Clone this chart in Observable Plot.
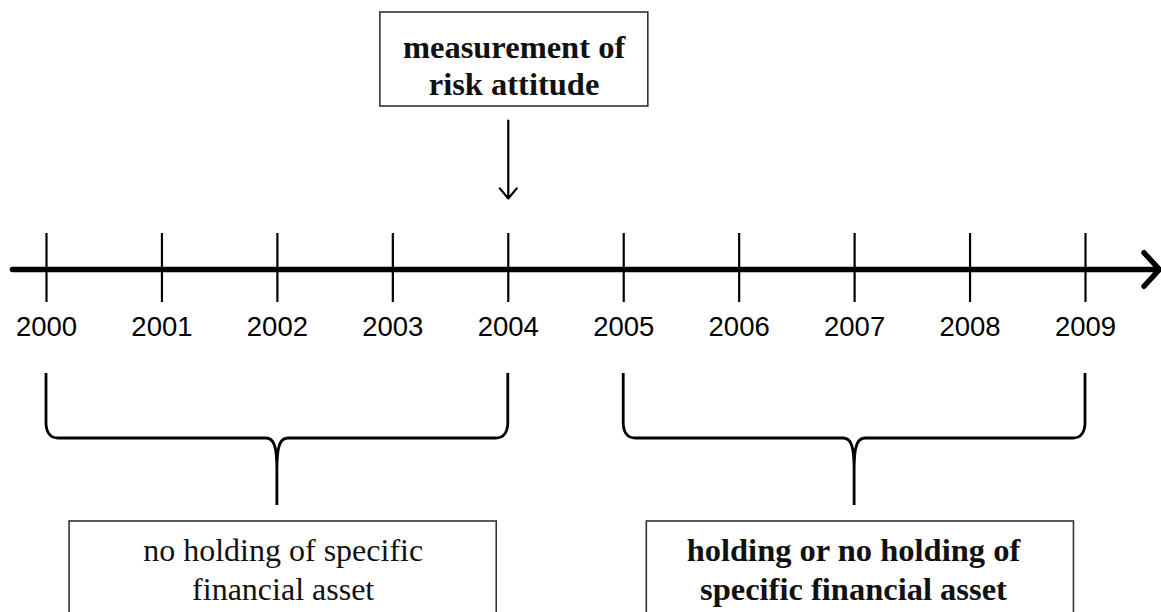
<!DOCTYPE html>
<html>
<head>
<meta charset="utf-8">
<script src="https://cdn.jsdelivr.net/npm/d3@7"></script>
<script src="https://cdn.jsdelivr.net/npm/@observablehq/plot@0.6"></script>
<style>
  html, body { margin: 0; padding: 0; background: #fff; }
  #chart svg { display: block; }
</style>
</head>
<body>
<div id="chart"></div>
<script>
// ---- data ----
const years = [2000, 2001, 2002, 2003, 2004, 2005, 2006, 2007, 2008, 2009];
const yearLabels = ["2000", "2001", "2002", "2003", "2004", "2005", "2006", "2007", "2008", "2009"];
const eventYear = [2004];
const eventLabel = ["measurement of\nrisk attitude"];
const periodStart = [2000, 2005];
const periodEnd = [2004, 2009];
const periodLabel = ["no holding of specific\nfinancial asset", "holding or no holding of\nspecific financial asset"];
const periodBold = [false, true];

// layout table built from the arrays (y is a top-down layout scale)
const ticks = years.map((y, i) => ({year: y, label: yearLabels[i]}));
const periods = periodStart.map((s, i) => ({
  start: s, end: periodEnd[i], mid: (s + periodEnd[i]) / 2,
  label: periodLabel[i], bold: periodBold[i]
}));
const events = eventYear.map((y, i) => ({year: y, label: eventLabel[i]}));

const serif = "'Liberation Serif', 'Times New Roman', serif";
const sans = "'Liberation Sans', Arial, sans-serif";

// brace mark (custom render through the x / y scales)
function braces(index, scales) {
  const g = d3.create("svg:g")
    .attr("fill", "none").attr("stroke", "#000").attr("stroke-width", 2.8)
    .attr("stroke-linejoin", "round").attr("stroke-linecap", "butt");
  const x = scales.x, y = scales.y;
  for (const p of periods) {
    const xa = x(p.start), xb = x(p.end), xm = x(p.mid);
    const yt = y(373), yh = y(438), yc = y(470), yb = y(505);
    const path = d3.path();
    path.moveTo(xa, yt);
    path.lineTo(xa, yh - 14);
    path.quadraticCurveTo(xa + 1, yh, xa + 12, yh);
    path.lineTo(xm - 11, yh);
    path.bezierCurveTo(xm - 3, yh, xm, yh + 8, xm, yc);
    path.lineTo(xm, yb);
    path.moveTo(xm, yc);
    path.bezierCurveTo(xm, yh + 8, xm + 3, yh, xm + 11, yh);
    path.lineTo(xb - 12, yh);
    path.quadraticCurveTo(xb - 1, yh, xb, yh - 14);
    path.lineTo(xb, yt);
    g.append("path").attr("d", path.toString());
  }
  return g.node();
}

const chart = Plot.plot({
  width: 1161,
  height: 612,
  marginLeft: 46,
  marginRight: 76,
  marginTop: 0,
  marginBottom: 0,
  x: {domain: [2000, 2009], axis: null},
  y: {domain: [0, 612], reverse: true, axis: null},
  style: {background: "#fff"},
  marks: [
    // main time axis with arrow
    Plot.arrow([0], {
      x1: () => 1999.705, x2: () => 2009.64, y1: () => 269, y2: () => 269,
      stroke: "#000", strokeWidth: 5.5, headLength: 6.2, headAngle: 95, bend: 0
    }),
    // year ticks
    Plot.ruleX(ticks, {x: "year", y1: () => 233, y2: () => 302, stroke: "#000", strokeWidth: 2.2}),
    // year labels
    Plot.text(ticks, {x: "year", y: () => 327, text: "label", fontSize: 27.5, fontFamily: sans, fill: "#000"}),
    // event box + arrow
    Plot.rect(events, {
      x1: d => d.year - 1.108, x2: d => d.year + 1.213, y1: () => 12, y2: () => 106,
      fill: "#fff", stroke: "#333", strokeWidth: 1.6
    }),
    Plot.text(events, {
      x: d => d.year + 0.05, y: () => 64.5, text: "label", fontSize: 32.5, fontWeight: "bold",
      fontFamily: serif, lineHeight: 1.14, fill: "#111"
    }),
    Plot.arrow(events, {
      x1: "year", x2: "year", y1: () => 120, y2: () => 198,
      stroke: "#000", strokeWidth: 2.2, headLength: 9, headAngle: 80, bend: 0
    }),
    // braces
    braces,
    // period boxes
    Plot.rect(periods, {
      x1: d => d.mid - 1.80, x2: d => d.mid + 1.90, y1: () => 521, y2: () => 640,
      fill: "#fff", stroke: "#333", strokeWidth: 1.6
    }),
    Plot.text(periods.filter(d => !d.bold), {
      x: d => d.mid + 0.05, y: () => 567.5, text: "label", fontSize: 32,
      fontWeight: "normal", fontFamily: serif, lineHeight: 1.22, fill: "#111"
    }),
    Plot.text(periods.filter(d => d.bold), {
      x: d => d.mid - 0.01, y: () => 567.5, text: "label", fontSize: 32.5,
      fontWeight: "bold", fontFamily: serif, lineHeight: 1.2, fill: "#111"
    })
  ]
});
document.getElementById("chart").append(chart);
</script>
</body>
</html>
